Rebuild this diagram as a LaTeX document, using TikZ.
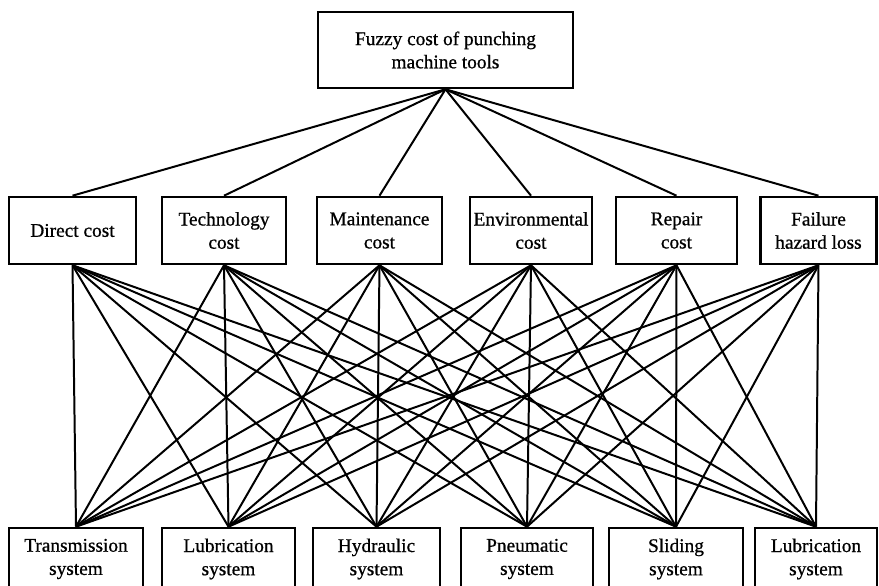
\documentclass[tikz,border=0pt]{standalone}
\usepackage{fontspec}
\setmainfont{Liberation Serif}[FakeBold=0.8]
\usepackage{tikz}
\usetikzlibrary{calc}

\tikzset{
  costbox/.style={draw, line width=2.2pt, align=center, inner sep=1pt,
    font=\fontsize{16.5}{19.8}\selectfont},
  link/.style={line width=1.7pt}
}

\begin{document}
\begin{tikzpicture}

\useasboundingbox (0,0) rectangle (26.37,17.58);

% top goal
\node[costbox, minimum width=7.65cm, minimum height=2.28cm] (goal) at (13.365,16.08)
  {Fuzzy cost of punching\\machine tools};

% criteria
\node[costbox, minimum width=3.81cm, minimum height=2.01cm] (c1) at (2.175,10.665) {Direct cost};
\node[costbox, minimum width=3.72cm, minimum height=2.01cm] (c2) at (6.72,10.665) {Technology\\cost};
\node[costbox, minimum width=3.75cm, minimum height=2.01cm] (c3) at (11.385,10.665) {Maintenance\\cost};
\node[costbox, minimum width=3.66cm, minimum height=2.01cm] (c4) at (15.93,10.665) {Environmental\\cost};
\node[costbox, minimum width=3.63cm, minimum height=2.01cm] (c5) at (20.295,10.665) {Repair\\cost};
\node[costbox, minimum width=3.48cm, minimum height=2.01cm] (c6) at (24.555,10.665) {Failure\\hazard loss};

% subsystems
\node[costbox, minimum width=4.02cm, minimum height=1.86cm] (s1) at (2.28,0.81) {Transmission\\system};
\node[costbox, minimum width=3.99cm, minimum height=1.86cm] (s2) at (6.855,0.81) {Lubrication\\system};
\node[costbox, minimum width=3.81cm, minimum height=1.86cm] (s3) at (11.295,0.81) {Hydraulic\\system};
\node[costbox, minimum width=3.96cm, minimum height=1.86cm] (s4) at (15.81,0.81) {Pneumatic\\system};
\node[costbox, minimum width=4.02cm, minimum height=1.86cm] (s5) at (20.28,0.81) {Sliding\\system};
\node[costbox, minimum width=3.66cm, minimum height=1.86cm] (s6) at (24.48,0.81) {Lubrication\\system};

% goal -- criteria
\foreach \c in {1,...,6}
  \draw[link] (goal.south) -- (c\c.north);

% criteria -- subsystems
\foreach \c in {1,...,6}
  \foreach \s in {1,...,6}
    \draw[link] (c\c.south) -- (s\s.north);

\end{tikzpicture}
\end{document}
